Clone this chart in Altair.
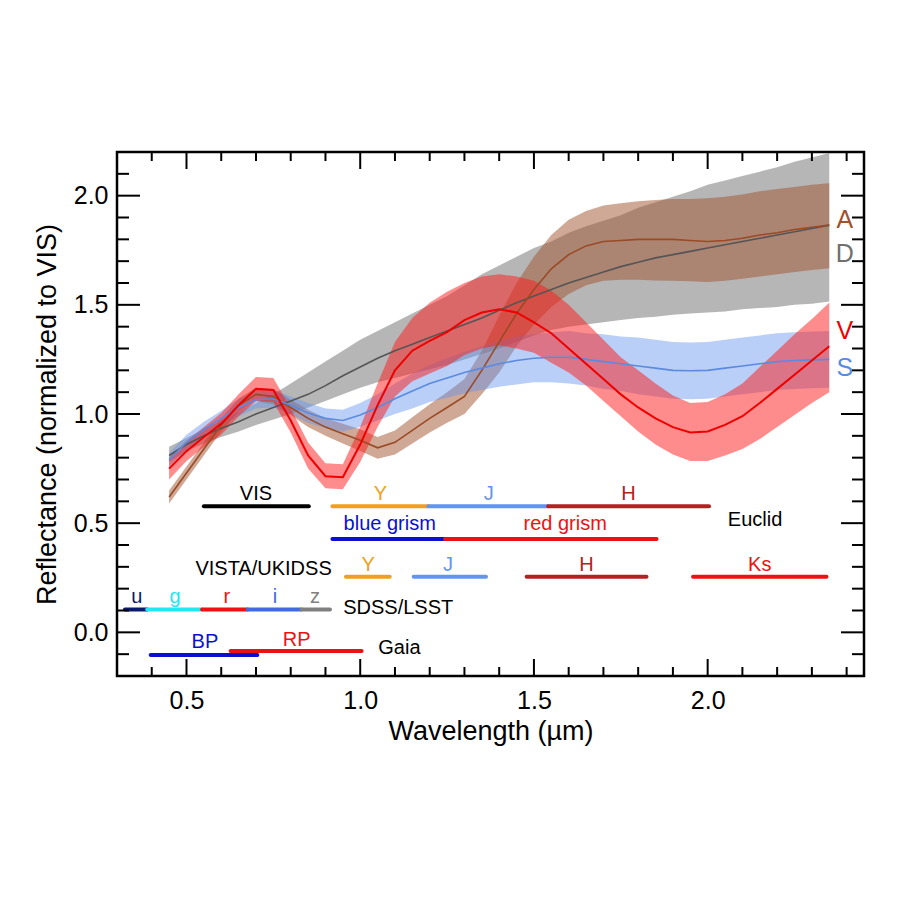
import altair as alt
import pandas as pd

FONT = "Liberation Sans"

# ---- reflectance spectra (mean and 1-sigma envelope) per taxonomic class ----
WL = [0.45, 0.50, 0.55, 0.60, 0.65, 0.70, 0.75, 0.80, 0.85, 0.90, 0.95, 1.00, 1.05,
      1.10, 1.15, 1.20, 1.25, 1.30, 1.35, 1.40, 1.45, 1.50, 1.55, 1.60, 1.65, 1.70,
      1.75, 1.80, 1.85, 1.90, 1.95, 2.00, 2.05, 2.10, 2.15, 2.20, 2.25, 2.30, 2.35]

D_MEAN = [0.81, 0.86, 0.90, 0.935, 0.965, 1.0, 1.03, 1.06, 1.09, 1.13, 1.175, 1.215, 1.255,
          1.29, 1.32, 1.35, 1.38, 1.41, 1.44, 1.475, 1.51, 1.54, 1.57, 1.60, 1.625, 1.65,
          1.675, 1.695, 1.715, 1.73, 1.745, 1.76, 1.775, 1.79, 1.805, 1.82, 1.835, 1.85, 1.865]
D_LO = [0.78, 0.83, 0.865, 0.895, 0.92, 0.95, 0.975, 1.0, 1.03, 1.06, 1.09, 1.12, 1.145,
        1.165, 1.185, 1.205, 1.225, 1.25, 1.275, 1.30, 1.33, 1.36, 1.385, 1.40, 1.41, 1.42,
        1.43, 1.44, 1.445, 1.455, 1.46, 1.465, 1.47, 1.48, 1.485, 1.49, 1.50, 1.505, 1.515]
D_HI = [0.85, 0.89, 0.93, 0.97, 1.01, 1.05, 1.09, 1.14, 1.19, 1.24, 1.29, 1.34, 1.38,
        1.42, 1.46, 1.50, 1.54, 1.59, 1.64, 1.68, 1.72, 1.76, 1.79, 1.83, 1.86, 1.885,
        1.91, 1.945, 1.97, 1.995, 2.02, 2.05, 2.07, 2.09, 2.11, 2.13, 2.155, 2.175, 2.195]

A_MEAN = [0.62, 0.73, 0.84, 0.95, 1.04, 1.09, 1.08, 1.03, 0.98, 0.94, 0.91, 0.88, 0.845,
          0.87, 0.925, 0.98, 1.03, 1.08, 1.20, 1.33, 1.46, 1.57, 1.665, 1.73, 1.77, 1.79,
          1.795, 1.80, 1.80, 1.80, 1.795, 1.79, 1.795, 1.805, 1.82, 1.83, 1.845, 1.855, 1.865]
A_LO = [0.59, 0.70, 0.81, 0.92, 1.01, 1.06, 1.045, 0.995, 0.94, 0.90, 0.865, 0.83, 0.795,
        0.815, 0.865, 0.915, 0.96, 1.00, 1.09, 1.19, 1.31, 1.41, 1.49, 1.55, 1.59, 1.61,
        1.615, 1.615, 1.612, 1.61, 1.608, 1.605, 1.61, 1.62, 1.63, 1.64, 1.65, 1.66, 1.667]
A_HI = [0.65, 0.76, 0.87, 0.98, 1.07, 1.12, 1.115, 1.065, 1.02, 0.98, 0.955, 0.93, 0.895,
        0.925, 0.985, 1.045, 1.10, 1.16, 1.29, 1.45, 1.60, 1.72, 1.82, 1.89, 1.93, 1.955,
        1.965, 1.975, 1.98, 1.985, 1.985, 1.988, 1.995, 2.005, 2.02, 2.03, 2.04, 2.05, 2.057]

S_MEAN = [0.79, 0.87, 0.93, 0.98, 1.03, 1.065, 1.07, 1.04, 1.005, 0.98, 0.97, 0.995, 1.03,
          1.07, 1.105, 1.14, 1.165, 1.19, 1.21, 1.23, 1.245, 1.255, 1.26, 1.26, 1.25, 1.24,
          1.23, 1.22, 1.21, 1.20, 1.198, 1.20, 1.21, 1.22, 1.23, 1.24, 1.245, 1.248, 1.25]
S_LO = [0.76, 0.835, 0.895, 0.945, 0.99, 1.025, 1.03, 1.0, 0.96, 0.935, 0.92, 0.94, 0.97,
        1.0, 1.025, 1.055, 1.075, 1.095, 1.11, 1.125, 1.135, 1.145, 1.145, 1.14, 1.13, 1.115,
        1.105, 1.09, 1.08, 1.07, 1.068, 1.07, 1.08, 1.09, 1.10, 1.11, 1.115, 1.118, 1.12]
S_HI = [0.82, 0.905, 0.965, 1.015, 1.07, 1.105, 1.11, 1.08, 1.05, 1.025, 1.02, 1.05, 1.09,
        1.14, 1.185, 1.225, 1.255, 1.285, 1.31, 1.335, 1.355, 1.365, 1.375, 1.38, 1.37, 1.365,
        1.355, 1.35, 1.34, 1.33, 1.328, 1.33, 1.34, 1.35, 1.36, 1.37, 1.375, 1.378, 1.38]

V_MEAN = [0.75, 0.83, 0.895, 0.955, 1.04, 1.115, 1.11, 0.97, 0.81, 0.715, 0.71, 0.86, 1.04,
          1.20, 1.29, 1.335, 1.375, 1.43, 1.465, 1.48, 1.465, 1.42, 1.37, 1.30, 1.23, 1.16,
          1.09, 1.03, 0.98, 0.94, 0.915, 0.92, 0.95, 0.99, 1.05, 1.115, 1.18, 1.245, 1.31]
V_LO = [0.70, 0.785, 0.85, 0.905, 0.99, 1.06, 1.055, 0.915, 0.75, 0.66, 0.655, 0.78, 0.94,
        1.08, 1.15, 1.185, 1.22, 1.27, 1.30, 1.315, 1.30, 1.28, 1.235, 1.19, 1.13, 1.06,
        0.99, 0.92, 0.86, 0.815, 0.785, 0.785, 0.81, 0.84, 0.885, 0.94, 0.995, 1.05, 1.10]
V_HI = [0.80, 0.875, 0.94, 1.005, 1.09, 1.17, 1.165, 1.025, 0.87, 0.775, 0.77, 0.94, 1.14,
        1.33, 1.44, 1.51, 1.56, 1.60, 1.63, 1.64, 1.63, 1.61, 1.565, 1.50, 1.42, 1.34,
        1.26, 1.20, 1.14, 1.085, 1.05, 1.055, 1.09, 1.14, 1.215, 1.29, 1.365, 1.435, 1.51]

# drawing order and colours: (name, mean, low, high, band colour, band opacity, line colour, line width)
CLASSES = [
    ("D", D_MEAN, D_LO, D_HI, "#7a7a7a", 0.55, "#555555", 1.6),
    ("A", A_MEAN, A_LO, A_HI, "#a0522d", 0.50, "#9a4a25", 1.6),
    ("S", S_MEAN, S_LO, S_HI, "#6495ed", 0.45, "#5b8be0", 1.6),
    ("V", V_MEAN, V_LO, V_HI, "#ff1a1a", 0.50, "#ee0000", 2.0),
]

# class tags at the right end of the curves
TAG_TEXT = ["A", "D", "V", "S"]
TAG_X = [2.395, 2.395, 2.395, 2.395]
TAG_Y = [1.89, 1.735, 1.38, 1.21]
TAG_COLOR = ["#a0522d", "#707070", "#ee0000", "#5b8be0"]

# ---- photometric filter bandpasses ----
F_NAME = ["VIS", "Y", "J", "H", "blue grism", "red grism",
          "Y", "J", "H", "Ks",
          "u", "g", "r", "i", "z",
          "BP", "RP"]
F_START = [0.55, 0.92, 1.196, 1.541, 0.92, 1.244,
           0.959, 1.154, 1.479, 1.958,
           0.323, 0.387, 0.545, 0.676, 0.831,
           0.397, 0.627]
F_END = [0.852, 1.196, 1.541, 2.004, 1.244, 1.853,
         1.085, 1.362, 1.824, 2.342,
         0.387, 0.545, 0.676, 0.831, 0.913,
         0.704, 1.004]
F_LEVEL = [0.578, 0.578, 0.578, 0.578, 0.427, 0.427,
           0.255, 0.255, 0.255, 0.255,
           0.105, 0.105, 0.105, 0.105, 0.105,
           -0.104, -0.086]
F_COLOR = ["#000000", "#f0a020", "#6495ed", "#b22222", "#0a10d0", "#ee1111",
           "#f0a020", "#6495ed", "#b22222", "#ee1111",
           "#0a1a6e", "#22e6f2", "#ee1111", "#4169e1", "#808080",
           "#0a10d0", "#ee1111"]
F_LABEL_X = [0.70, 1.058, 1.37, 1.772, 1.085, 1.59,
             1.023, 1.253, 1.651, 2.15,
             0.357, 0.467, 0.616, 0.755, 0.87,
             0.553, 0.817]
F_LABEL_Y = [0.633, 0.633, 0.633, 0.633, 0.496, 0.496,
             0.31, 0.31, 0.31, 0.31,
             0.163, 0.163, 0.163, 0.163, 0.163,
             -0.043, -0.035]

# survey names
SURVEY_TEXT = ["Euclid", "VISTA/UKIDSS", "SDSS/LSST", "Gaia"]
SURVEY_X = [2.058, 0.918, 0.951, 1.052]
SURVEY_Y = [0.514, 0.292, 0.112, -0.073]
SURVEY_ALIGN = ["left", "right", "left", "left"]

# ---- axis ticks ----
X_MAJOR = [0.5, 1.0, 1.5, 2.0]
X_MINOR = [0.4, 0.6, 0.7, 0.8, 0.9, 1.1, 1.2, 1.3, 1.4, 1.6, 1.7, 1.8, 1.9, 2.1, 2.2, 2.3, 2.4]
Y_MAJOR = [0.0, 0.5, 1.0, 1.5, 2.0]
Y_MINOR = [-0.1, 0.1, 0.2, 0.3, 0.4, 0.6, 0.7, 0.8, 0.9, 1.1, 1.2, 1.3, 1.4, 1.6, 1.7, 1.8, 1.9, 2.1]

W, H = 747, 524
XDOM = [0.3, 2.45]
YDOM = [-0.2, 2.2]

xs = alt.Scale(domain=XDOM, nice=False, zero=False)
ys = alt.Scale(domain=YDOM, nice=False, zero=False)

x_axis = alt.Axis(values=X_MAJOR, format=".1f", ticks=False, domain=False, grid=False,
                  labelFont=FONT, labelFontSize=25, labelPadding=12, labelColor="black",
                  title="Wavelength (µm)", titleFont=FONT, titleFontSize=27,
                  titleFontWeight="normal", titleColor="black", titlePadding=5)
y_axis = alt.Axis(values=Y_MAJOR, format=".1f", ticks=False, domain=False, grid=False,
                  labelFont=FONT, labelFontSize=25, labelPadding=9, labelColor="black",
                  title="Reflectance (normalized to VIS)", titleFont=FONT, titleFontSize=27,
                  titleFontWeight="normal", titleColor="black", titlePadding=12)


def X(field):
    return alt.X(field, type="quantitative", scale=xs, axis=x_axis, title="Wavelength (µm)")


def Y(field):
    return alt.Y(field, type="quantitative", scale=ys, axis=y_axis,
                 title="Reflectance (normalized to VIS)")


layers = []

# envelopes
for name, mean, lo, hi, bc, bo, lc, lw in CLASSES:
    df = pd.DataFrame({"wl": WL, "lo": lo, "hi": hi})
    layers.append(alt.Chart(df).mark_area(color=bc, opacity=bo, clip=True).encode(
        x=X("wl"), y=Y("lo"), y2="hi"))

# mean spectra
for name, mean, lo, hi, bc, bo, lc, lw in CLASSES:
    df = pd.DataFrame({"wl": WL, "r": mean})
    layers.append(alt.Chart(df).mark_line(color=lc, strokeWidth=lw, clip=True).encode(
        x=X("wl"), y=Y("r")))

# class tags
tags = pd.DataFrame({"t": TAG_TEXT, "x": TAG_X, "y": TAG_Y, "c": TAG_COLOR})
layers.append(alt.Chart(tags).mark_text(font=FONT, fontSize=25, align="center", baseline="middle").encode(
    x=X("x"), y=Y("y"), text="t:N", color=alt.Color("c:N", scale=None)))

# filter bars and their names
filt = pd.DataFrame({"name": F_NAME, "x0": F_START, "x1": F_END, "y": F_LEVEL,
                     "c": F_COLOR, "lx": F_LABEL_X, "ly": F_LABEL_Y})
layers.append(alt.Chart(filt).mark_rule(strokeWidth=4, strokeCap="round").encode(
    x=X("x0"), x2="x1", y=Y("y"), color=alt.Color("c:N", scale=None)))
layers.append(alt.Chart(filt).mark_text(font=FONT, fontSize=20, align="center", baseline="middle").encode(
    x=X("lx"), y=Y("ly"), text="name:N", color=alt.Color("c:N", scale=None)))

# survey names
surv = pd.DataFrame({"t": SURVEY_TEXT, "x": SURVEY_X, "y": SURVEY_Y, "a": SURVEY_ALIGN})
for al in ["left", "right"]:
    layers.append(alt.Chart(surv[surv.a == al]).mark_text(
        font=FONT, fontSize=20, align=al, baseline="middle", color="black").encode(
        x=X("x"), y=Y("y"), text="t:N"))


# inward ticks on all four sides
def xticks(vals, length):
    d = pd.DataFrame({"v": vals})
    bottom = alt.Chart(d).mark_rule(color="black", strokeWidth=2).encode(
        x=X("v"), y=alt.value(H), y2=alt.value(H - length))
    top = alt.Chart(d).mark_rule(color="black", strokeWidth=2).encode(
        x=X("v"), y=alt.value(0), y2=alt.value(length))
    return [bottom, top]


def yticks(vals, length):
    d = pd.DataFrame({"v": vals})
    left = alt.Chart(d).mark_rule(color="black", strokeWidth=2).encode(
        y=Y("v"), x=alt.value(0), x2=alt.value(length))
    right = alt.Chart(d).mark_rule(color="black", strokeWidth=2).encode(
        y=Y("v"), x=alt.value(W), x2=alt.value(W - length))
    return [left, right]


layers += xticks(X_MAJOR, 17) + xticks(X_MINOR, 9) + yticks(Y_MAJOR, 23) + yticks(Y_MINOR, 12)

chart = alt.layer(*layers).properties(
    width=W, height=H,
    autosize=alt.AutoSizeParams(type="none"),
    padding={"left": 117, "top": 152, "right": 36, "bottom": 224},
    background="white",
).configure_view(stroke="black", strokeWidth=2.5)

chart.save("out.html", embed_options={"renderer": "svg", "actions": False})
